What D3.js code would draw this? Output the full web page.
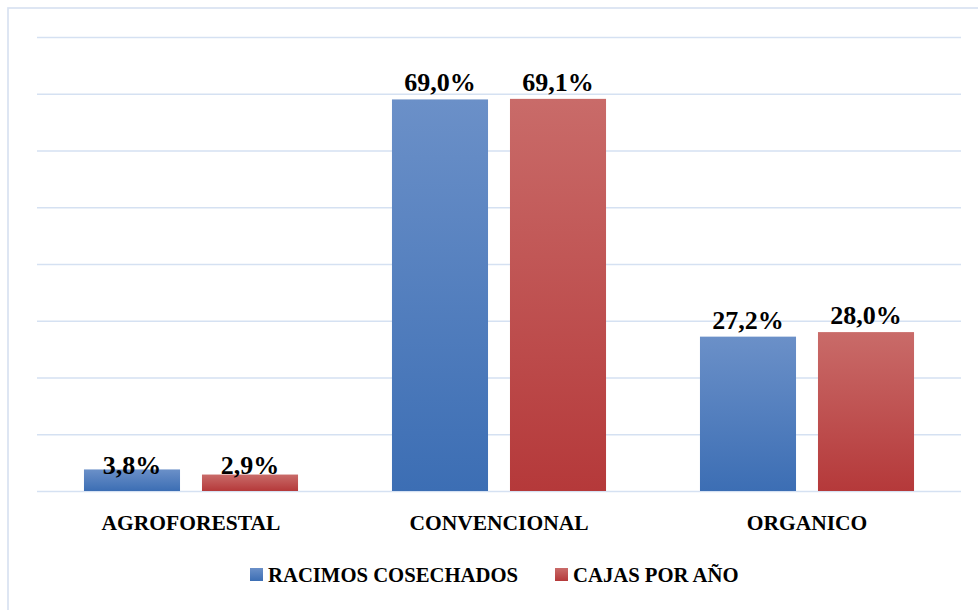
<!DOCTYPE html>
<html>
<head>
<meta charset="utf-8">
<script src="https://cdn.jsdelivr.net/npm/d3@7"></script>
<style>
  body { margin: 0; background: #fff; }
</style>
</head>
<body>
<div id="chart"></div>
<script>
// data
var categories = ["AGROFORESTAL", "CONVENCIONAL", "ORGANICO"];
var seriesNames = ["RACIMOS COSECHADOS", "CAJAS POR AÑO"];
var racimos = [3.8, 69.0, 27.2];
var cajas = [2.9, 69.1, 28.0];
var yTicks = [0, 10, 20, 30, 40, 50, 60, 70, 80];

var FONT = "'Liberation Serif', 'DejaVu Serif', serif";

var width = 978, height = 610;
var margin = {top: 37, left: 37, right: 17, bottom: 119};
var plotW = width - margin.left - margin.right,
    plotH = height - margin.top - margin.bottom;

var svg = d3.select("#chart").append("svg")
    .attr("width", width)
    .attr("height", height);

// gradients for bars
var defs = svg.append("defs");
var grads = [["gBlue", "#6b90c8", "#3c6eb4"], ["gRed", "#c96b69", "#b5393a"]];
grads.forEach(function(g) {
    var lg = defs.append("linearGradient").attr("id", g[0])
        .attr("x1", 0).attr("y1", 0).attr("x2", 0).attr("y2", 1);
    lg.append("stop").attr("offset", "0%").attr("stop-color", g[1]);
    lg.append("stop").attr("offset", "100%").attr("stop-color", g[2]);
});

// chart border (only top/left visible in frame)
svg.append("rect")
    .attr("x", 8).attr("y", 8)
    .attr("width", 990).attr("height", 620)
    .attr("fill", "none")
    .attr("stroke", "#d9e2f1")
    .attr("stroke-width", 1.7);

var g = svg.append("g").attr("transform", "translate(" + margin.left + "," + margin.top + ")");

var x = d3.scaleBand().domain(categories).range([0, plotW]);
var xs = d3.scaleBand().domain(seriesNames).range([0, x.bandwidth()])
    .paddingInner(0.186).paddingOuter(0.398);
var y = d3.scaleLinear().domain([0, 80]).range([plotH, 0]);

// gridlines
g.append("g")
    .call(d3.axisLeft(y).tickValues(yTicks).tickSize(-plotW).tickFormat(""))
    .call(function(a) { a.select(".domain").remove(); })
    .selectAll(".tick line")
    .attr("stroke", "#d5e1f2")
    .attr("stroke-width", 1.6);

var rows = categories.map(function(c, i) {
    return {cat: c, vals: [racimos[i], cajas[i]]};
});

var fills = ["url(#gBlue)", "url(#gRed)"];

var grp = g.selectAll(".cat").data(rows).enter().append("g")
    .attr("transform", function(d) { return "translate(" + x(d.cat) + ",0)"; });

grp.selectAll("rect").data(function(d) { return d.vals; }).enter().append("rect")
    .attr("x", function(d, i) { return xs(seriesNames[i]); })
    .attr("y", function(d) { return y(d); })
    .attr("width", xs.bandwidth())
    .attr("height", function(d) { return plotH - y(d); })
    .attr("fill", function(d, i) { return fills[i]; });

// value labels; small bars get the label sitting just above the baseline
grp.selectAll(".lbl").data(function(d) { return d.vals; }).enter().append("text")
    .attr("class", "lbl")
    .attr("x", function(d, i) { return xs(seriesNames[i]) + xs.bandwidth() / 2; })
    .attr("y", function(d) { return d < 5 ? y(0) - 17 : y(d) - 8; })
    .attr("text-anchor", "middle")
    .style("font-family", FONT)
    .style("font-weight", "bold")
    .style("font-size", "26px")
    .text(function(d) { return d.toFixed(1).replace(".", ",") + "%"; });

// category axis labels
g.selectAll(".catlbl").data(categories).enter().append("text")
    .attr("x", function(d) { return x(d) + x.bandwidth() / 2; })
    .attr("y", plotH + 39)
    .attr("text-anchor", "middle")
    .style("font-family", FONT)
    .style("font-weight", "bold")
    .style("font-size", "21.5px")
    .text(function(d) { return d; });

// legend
var legX = [250, 555];
var leg = svg.selectAll(".leg").data(seriesNames).enter().append("g")
    .attr("transform", function(d, i) { return "translate(" + legX[i] + ",568)"; });
leg.append("rect").attr("width", 13).attr("height", 13)
    .attr("fill", function(d, i) { return fills[i]; });
leg.append("text").attr("x", 18).attr("y", 14)
    .style("font-family", FONT)
    .style("font-weight", "bold")
    .style("font-size", "20.7px")
    .text(function(d) { return d; });
</script>
</body>
</html>
